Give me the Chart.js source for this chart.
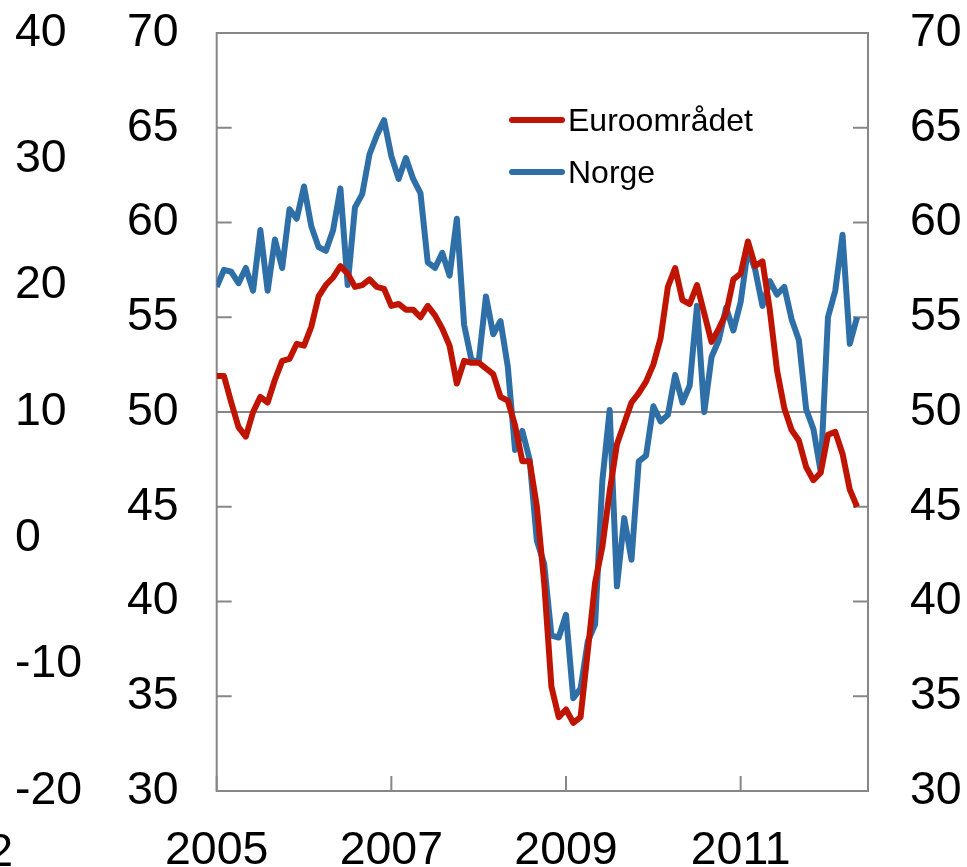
<!DOCTYPE html>
<html>
<head>
<meta charset="utf-8">
<script src="https://cdn.jsdelivr.net/npm/chart.js@4/dist/chart.umd.min.js"></script>
<style>
  html, body { margin: 0; padding: 0; background: #fff; }
  #wrap { width: 967px; height: 867px; }
</style>
</head>
<body>
<div id="wrap"><canvas id="pmiChart" width="967" height="867"></canvas></div>
<script>
// PMI, Euroområdet vs Norge, monthly from Jan 2005
const startYear = 2005;
const yearTicks = [2005, 2007, 2009, 2011];

const euro = [
  51.9, 51.9, 50.5, 49.2, 48.7, 50.0, 50.8, 50.5, 51.7, 52.7,
  52.8, 53.6, 53.5, 54.5, 56.1, 56.7, 57.1, 57.7, 57.3, 56.6,
  56.7, 57.0, 56.6, 56.5, 55.6, 55.7, 55.4, 55.4, 55.0, 55.6,
  55.1, 54.4, 53.5, 51.5, 52.7, 52.6, 52.6, 52.3, 52.0, 50.8,
  50.6, 49.3, 47.4, 47.4, 45.0, 41.0, 35.5, 33.9, 34.3, 33.6,
  33.9, 37.4, 41.0, 42.9, 45.8, 48.3, 49.4, 50.5, 51.0, 51.6,
  52.5, 53.9, 56.6, 57.6, 55.9, 55.7, 56.7, 55.2, 53.7, 54.4,
  55.2, 57.0, 57.3, 59.0, 57.7, 57.95, 55.4, 52.2, 50.2, 49.05,
  48.5, 47.1, 46.4, 46.8, 48.8, 48.95, 47.8, 45.9, 45.0
];

const norge = [
  56.6, 57.5, 57.4, 56.8, 57.6, 56.4, 59.6, 56.4, 59.1, 57.6,
  60.7, 60.2, 61.9, 59.8, 58.7, 58.5, 59.6, 61.8, 56.7, 60.8,
  61.5, 63.6, 64.6, 65.4, 63.5, 62.3, 63.4, 62.3, 61.55, 57.9,
  57.6, 58.4, 57.2, 60.2, 54.6, 52.75, 52.65, 56.1, 54.1, 54.8,
  52.4, 48.0, 49.0, 47.5, 43.2, 42.0, 38.2, 38.1, 39.3, 34.9,
  35.4, 37.9, 38.8, 46.4, 50.1, 40.8, 44.4, 42.2, 47.4, 47.7,
  50.3, 49.5, 49.85, 51.95, 50.5, 51.4, 55.6, 50.0, 52.9, 53.8,
  55.5, 54.3, 55.8, 58.6, 57.5, 55.6, 56.9, 56.2, 56.6, 54.9,
  53.8, 50.15, 49.1, 46.85, 55.0, 56.4, 59.35, 53.6, 55.0
];

const RED = "#BE1400";
const BLUE = "#2F6FA7";
const AXIS = "#878787";
const FONT = "'Liberation Sans', Arial, sans-serif";

const toPoints = (arr) => arr.map((v, i) => ({ x: i, y: v }));

// frame, 50-line, inward tick marks, legend
const decorPlugin = {
  id: "decor",
  beforeDatasetsDraw(chart) {
    const { ctx, chartArea: a, scales } = chart;
    ctx.save();
    ctx.strokeStyle = AXIS;
    ctx.lineWidth = 2;

    const y50 = scales.y.getPixelForValue(50);
    ctx.beginPath();
    ctx.moveTo(a.left, y50);
    ctx.lineTo(a.right, y50);
    ctx.stroke();

    ctx.beginPath();
    ctx.rect(a.left, a.top, a.right - a.left, a.bottom - a.top);
    ctx.stroke();

    ctx.beginPath();
    for (let v = 30; v <= 70; v += 5) {
      const py = scales.y.getPixelForValue(v);
      ctx.moveTo(a.left, py);
      ctx.lineTo(a.left + 15, py);
      ctx.moveTo(a.right, py);
      ctx.lineTo(a.right - 15, py);
    }
    yearTicks.forEach((yr) => {
      const px = scales.x.getPixelForValue((yr - startYear) * 12);
      ctx.moveTo(px, a.bottom);
      ctx.lineTo(px, a.bottom - 15);
    });
    ctx.stroke();
    ctx.restore();
  },
  afterDraw(chart) {
    const { ctx } = chart;
    ctx.save();
    ctx.font = "32px " + FONT;
    ctx.textBaseline = "alphabetic";
    ctx.textAlign = "left";
    ctx.lineWidth = 6;
    ctx.lineCap = "round";
    chart.data.datasets.forEach((ds, i) => {
      const ly = 120 + i * 52;
      ctx.strokeStyle = ds.borderColor;
      ctx.beginPath();
      ctx.moveTo(512, ly);
      ctx.lineTo(562, ly);
      ctx.stroke();
      ctx.fillStyle = "#000";
      ctx.fillText(ds.label, 568, ly + 11);
    });
    // clipped label left over at the bottom-left edge
    ctx.font = "46px " + FONT;
    ctx.textAlign = "right";
    ctx.fillText("2", 13, 866);
    ctx.restore();
  },
};

const tickFont = { family: FONT, size: 46.5 };

new Chart(document.getElementById("pmiChart"), {
  type: "line",
  data: {
    datasets: [
      {
        label: "Euroområdet",
        data: toPoints(euro),
        borderColor: RED,
        borderWidth: 6,
        pointRadius: 0,
        tension: 0,
        borderJoinStyle: "round",
        yAxisID: "y",
      },
      {
        label: "Norge",
        data: toPoints(norge),
        borderColor: BLUE,
        borderWidth: 6,
        pointRadius: 0,
        tension: 0,
        borderJoinStyle: "round",
        yAxisID: "y",
      },
    ],
  },
  options: {
    responsive: false,
    animation: false,
    layout: { padding: { top: 33, left: 15, right: 0, bottom: 0 } },
    plugins: {
      legend: { display: false },
      tooltip: { enabled: false },
    },
    scales: {
      x: {
        type: "linear",
        min: 0,
        max: 89.5,
        grid: { display: false, drawTicks: false, tickLength: 0 },
        border: { display: false },
        afterBuildTicks: (s) => {
          s.ticks = yearTicks.map((yr) => ({ value: (yr - startYear) * 12 }));
        },
        afterFit: (s) => {
          s.height = 76;
          s.paddingLeft = 0;
          s.paddingRight = 0;
        },
        ticks: {
          font: tickFont,
          color: "#000",
          padding: 32,
          maxRotation: 0,
          autoSkip: false,
          callback: (v) => String(startYear + v / 12),
        },
      },
      yOuter: {
        position: "left",
        weight: 1,
        min: -20,
        max: 40,
        grid: { display: false, drawTicks: false, tickLength: 0 },
        border: { display: false },
        afterFit: (s) => {
          s.width = 101.7;
          s.paddingTop = 0;
          s.paddingBottom = 0;
        },
        ticks: {
          stepSize: 10,
          font: tickFont,
          color: "#000",
          crossAlign: "far",
          autoSkip: false,
        },
      },
      y: {
        position: "left",
        weight: 0,
        min: 30,
        max: 70,
        grid: { display: false, drawTicks: false, tickLength: 0 },
        border: { display: false },
        afterFit: (s) => {
          s.width = 100;
          s.paddingTop = 0;
          s.paddingBottom = 0;
        },
        ticks: {
          stepSize: 5,
          font: tickFont,
          color: "#000",
          padding: 38,
          autoSkip: false,
        },
      },
      yRight: {
        position: "right",
        min: 30,
        max: 70,
        grid: { display: false, drawTicks: false, tickLength: 0 },
        border: { display: false },
        afterFit: (s) => {
          s.width = 99;
          s.paddingTop = 0;
          s.paddingBottom = 0;
        },
        ticks: {
          stepSize: 5,
          font: tickFont,
          color: "#000",
          padding: 42,
          autoSkip: false,
        },
      },
    },
  },
  plugins: [decorPlugin],
});
</script>
</body>
</html>
